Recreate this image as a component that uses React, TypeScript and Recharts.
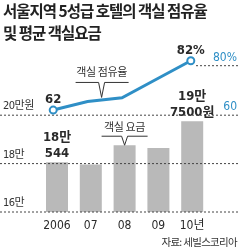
import React from 'react';
import { ComposedChart, Bar, Line, XAxis, YAxis, ReferenceLine, LabelList } from 'recharts';

const years = ['2006', '07', '08', '09', '10년'];
const roomRate = [180544, 179600, 187600, 186400, 197500];
const occupancy = [62, 65.5, 67, 74.5, 82];
const rateTicks = [160000, 180000, 200000];
const rateTickLabels = ['16만', '18만', '20만원'];
const occTicks = [60, 80];

const data = years.map((year, i) => ({ year, rate: roomRate[i], occ: occupancy[i] }));

const BLUE = '#2f8fc6';
const DARK = '#2a2a2a';
const KR = '"Noto Sans CJK KR", sans-serif';
const NARROW = '"Liberation Sans Narrow", "DejaVu Sans Condensed", "Noto Sans CJK KR", sans-serif';

const LeftTick = (props: any) => {
  const i = rateTicks.indexOf(props.payload.value);
  return (
    <text x={3} y={props.y - 6} fontSize={11} fill="#333" fontFamily={NARROW} letterSpacing={-0.5}>
      {rateTickLabels[i]}
    </text>
  );
};

const RightTick = (props: any) => {
  const v = props.payload.value;
  return (
    <g>
      {v === 80 && (
        <line x1={196} x2={240} y1={props.y} y2={props.y} stroke="#444" strokeDasharray="2 2" />
      )}
      <text x={237} y={props.y - 5} textAnchor="end" fontSize={12} fill={BLUE} fontFamily={NARROW}>
        {v === 80 ? '80%' : v}
      </text>
    </g>
  );
};

const XTick = (props: any) => (
  <text x={props.x} y={props.y + 9} textAnchor="middle" fontSize={12} fill={DARK} fontFamily={NARROW}>
    {props.payload.value}
  </text>
);

const LineLabel = (props: any) => {
  const { x, y, index, value } = props;
  if (index === 0 || index === occupancy.length - 1) {
    return (
      <text x={x} y={y - 7} textAnchor="middle" fontSize={13} fill={DARK} fontWeight="bold" fontFamily={NARROW}>
        {index === 0 ? value : value + '%'}
      </text>
    );
  }
  if (index === 1) {
    const cx = x + 14;
    const tip = y - 4;
    return (
      <g>
        <text x={cx} y={tip - 21} textAnchor="middle" fontSize={11} fill="#333" fontFamily={KR} letterSpacing={-0.4}>
          객실 점유율
        </text>
        <polyline
          points={`${cx - 26},${tip - 15} ${cx - 3},${tip - 15} ${cx},${tip} ${cx + 3},${tip - 15} ${cx + 27},${tip - 15}`}
          fill="none"
          stroke="#333"
          strokeWidth={1}
        />
      </g>
    );
  }
  return null;
};

const BarLabel = (props: any) => {
  const { x, y, width, index, value } = props;
  const cx = x + width / 2;
  if (index === 0 || index === roomRate.length - 1) {
    const man = Math.floor(value / 10000);
    const rest = value % 10000;
    return (
      <g>
        <text x={cx} y={y - 21} textAnchor="middle" fontSize={13} fill={DARK} fontWeight="bold" fontFamily={NARROW}>
          {man}만
        </text>
        <text x={cx} y={y - 5} textAnchor="middle" fontSize={13} fill={DARK} fontWeight="bold" fontFamily={NARROW}>
          {rest}{index === 0 ? '' : '원'}
        </text>
      </g>
    );
  }
  if (index === 2) {
    const tip = y;
    return (
      <g>
        <text x={cx} y={tip - 14} textAnchor="middle" fontSize={11} fill="#333" fontFamily={KR} letterSpacing={-0.4}>
          객실 요금
        </text>
        <polyline
          points={`${cx - 23},${tip - 9} ${cx - 3},${tip - 9} ${cx},${tip} ${cx + 3},${tip - 9} ${cx + 23},${tip - 9}`}
          fill="none"
          stroke="#333"
          strokeWidth={1}
        />
      </g>
    );
  }
  return null;
};

const Dot = (props: any) => {
  const { cx, cy, index } = props;
  if (index !== 0 && index !== occupancy.length - 1) return <g key={index} />;
  return <circle key={index} cx={cx} cy={cy} r={3.5} fill="#fff" stroke={BLUE} strokeWidth={2} />;
};

export default function App() {
  return (
    <div style={{ position: 'fixed', left: 0, top: 0, width: 240, height: 252, background: '#fff' }}>
      <div
        style={{
          position: 'absolute',
          left: 3,
          top: 0,
          fontFamily: KR,
          fontWeight: 'bold',
          fontSize: 15.5,
          lineHeight: '21.5px',
          letterSpacing: -1,
          color: '#222',
          whiteSpace: 'nowrap',
        }}
      >
        서울지역 5성급 호텔의 객실 점유율
        <br />및 평균 객실요금
      </div>
      <ComposedChart width={240} height={252} data={data} margin={{ top: 55, right: 0, left: 0, bottom: 15 }}>
        <XAxis
          dataKey="year"
          xAxisId="bar"
          height={25}
          axisLine={false}
          tickLine={false}
          padding={{ left: 40, right: 31 }}
          tick={<XTick />}
          interval={0}
        />
        <XAxis dataKey="year" xAxisId="line" hide padding={{ left: 36, right: 32 }} />
        <YAxis
          yAxisId="left"
          domain={[160000, 224876]}
          ticks={rateTicks}
          mirror
          axisLine={false}
          tickLine={false}
          tick={<LeftTick />}
          allowDataOverflow
        />
        <YAxis
          yAxisId="right"
          orientation="right"
          domain={[20.65, 84.34]}
          ticks={occTicks}
          mirror
          axisLine={false}
          tickLine={false}
          tick={<RightTick />}
          allowDataOverflow
        />
        {rateTicks.map((t) => (
          <ReferenceLine key={t} xAxisId="bar" yAxisId="left" y={t} stroke="#444" strokeDasharray="2 2" />
        ))}
        <Bar xAxisId="bar" yAxisId="left" dataKey="rate" fill="#b9b9b9" barSize={22} isAnimationActive={false}>
          <LabelList dataKey="rate" content={<BarLabel />} />
        </Bar>
        <Line
          xAxisId="line"
          yAxisId="right"
          dataKey="occ"
          stroke={BLUE}
          strokeWidth={3}
          dot={<Dot />}
          activeDot={false}
          isAnimationActive={false}
        >
          <LabelList dataKey="occ" content={<LineLabel />} />
        </Line>
      </ComposedChart>
      <div
        style={{
          position: 'absolute',
          right: 3,
          top: 236,
          fontFamily: KR,
          fontSize: 10.5,
          lineHeight: '12px',
          letterSpacing: -0.7,
          color: '#333',
          whiteSpace: 'nowrap',
        }}
      >
        자료: 세빌스코리아
      </div>
    </div>
  );
}
